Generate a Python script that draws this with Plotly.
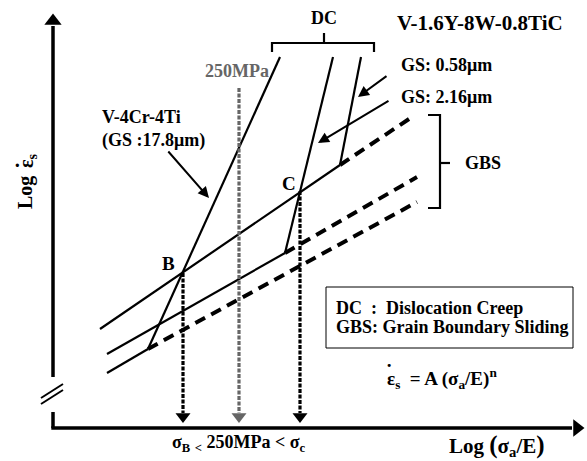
import plotly.graph_objects as go

W, H = 587, 461
FONT = "Liberation Serif"

# ---- schematic data (pixel-like schematic units) ----
# Dislocation-creep (steep) lines: top point -> point where they meet their GBS line
dc_names = ["V-4Cr-4Ti", "GS 2.16um", "GS 0.58um"]
dc_x_top = [280, 333, 361]
dc_y_top = [57, 57, 57]
dc_x_kink = [148, 285, 340]
dc_y_kink = [349, 253, 165]
# Grain-boundary-sliding lines: solid from start to kink, dashed from kink to end
gbs_x_start = [107, 107, 100]
gbs_y_start = [373, 354, 329]
gbs_x_end = [417, 417, 409]
gbs_y_end = [202, 177, 119]
# stress drop lines (B, 250MPa, C)
stress_names = ["B", "250MPa", "C"]
stress_x = [183, 239, 300]
stress_y_top = [273, 88, 191]
stress_colors = ["black", "#666666", "black"]
axis_bottom_y = 428
arrow_tip_y = 423

fig = go.Figure()

def line(xs, ys, width=2.2, color="black", dash="solid"):
    fig.add_trace(go.Scatter(x=xs, y=ys, mode="lines",
                             line=dict(color=color, width=width, dash=dash),
                             hoverinfo="skip", showlegend=False))

# axes
line([53, 53], [26, 377], width=3.5)
line([53, 53], [412, axis_bottom_y], width=3.5)
line([51.3, 572], [axis_bottom_y, axis_bottom_y], width=3.5)
# axis break marks
line([41, 63], [404, 390], width=2)
line([41, 63], [398, 384], width=2)
# axis arrowheads
fig.add_trace(go.Scatter(x=[53], y=[21], mode="markers",
                         marker=dict(symbol="triangle-up", size=15, color="black"),
                         hoverinfo="skip", showlegend=False))
fig.add_trace(go.Scatter(x=[577], y=[428], mode="markers",
                         marker=dict(symbol="triangle-right", size=15, color="black"),
                         hoverinfo="skip", showlegend=False))

# DC lines
for xt, yt, xk, yk in zip(dc_x_top, dc_y_top, dc_x_kink, dc_y_kink):
    line([xt, xk], [yt, yk], width=2.2)

# GBS lines
for i in range(3):
    line([gbs_x_start[i], dc_x_kink[i]], [gbs_y_start[i], dc_y_kink[i]], width=2.2)
    line([dc_x_kink[i], gbs_x_end[i]], [dc_y_kink[i], gbs_y_end[i]], width=4, dash="11px,7px")

# stress drop lines and arrowheads
for x, yt, c in zip(stress_x, stress_y_top, stress_colors):
    line([x, x], [yt, arrow_tip_y - 10], width=3.2, color=c, dash="4px,1.5px")
    fig.add_trace(go.Scatter(x=[x], y=[arrow_tip_y - 6.5], mode="markers",
                             marker=dict(symbol="triangle-down", size=13, color=c),
                             hoverinfo="skip", showlegend=False))

# brackets
line([272, 272, 374, 374], [52, 43, 43, 52], width=2.2)
line([324, 324], [43, 33], width=2.2)
line([428, 440, 440, 428], [115, 115, 208, 208], width=2.2)
line([440, 450], [163, 163], width=2.2)

# legend box
fig.add_shape(type="rect", x0=326, y0=287, x1=573, y1=348,
              line=dict(color="black", width=1), xref="x", yref="y")

def txt(x, y, s, size=17, color="black", xanchor="center", angle=0):
    fig.add_annotation(x=x, y=y, text="<b>" + s + "</b>", showarrow=False,
                       xanchor=xanchor, yanchor="middle", textangle=angle,
                       font=dict(family=FONT, size=size, color=color))

def arrow(x0, y0, x1, y1):
    fig.add_annotation(x=x1, y=y1, ax=x0, ay=y0, xref="x", yref="y",
                       axref="x", ayref="y", text="", showarrow=True,
                       arrowhead=2, arrowsize=1.1, arrowwidth=2, arrowcolor="black")

BIGP = "<span style='font-size:25px'>%s</span>"

txt(324, 18, "DC", size=18)
txt(480, 23, "V-1.6Y-8W-0.8TiC", size=21)
txt(237, 71, "250MPa", size=18, color="#666666")
txt(399, 65, "GS: 0.58μm", size=18, xanchor="left")
txt(399, 97, "GS: 2.16μm", size=18, xanchor="left")
txt(100, 117, "V-4Cr-4Ti", size=18, xanchor="left")
txt(100, 140, "(GS :17.8μm)", size=18, xanchor="left")
txt(483, 163, "GBS", size=18)
txt(168, 263, "B", size=19)
txt(289, 183, "C", size=19)
txt(334, 308, "DC\u00a0\u00a0:\u00a0\u00a0Dislocation Creep", size=18, xanchor="left")
txt(334, 327, "GBS: Grain Boundary Sliding", size=18, xanchor="left")
txt(385, 378, "ε<sub>s</sub>\u00a0\u00a0= A (σ<sub>a</sub>/E)<sup>n</sup>", size=19, xanchor="left")
txt(389, 365, "·", size=19)
txt(238, 443, "σ<sub>B</sub> <sub>&lt;</sub> 250MPa &lt; σ<sub>c</sub>", size=18)
txt(497, 445, "Log " + BIGP % "(" + "σ<sub>a</sub>/E" + BIGP % ")", size=21)
txt(25, 193, "Log", size=20, angle=-90)
txt(27, 161, "ε<sub>s</sub>", size=20, angle=-90)
txt(17, 165, "·", size=20)

arrow(167, 150, 209, 198)
arrow(388, 75, 358, 97)
arrow(390, 100, 318, 143)

fig.update_layout(width=W, height=H, margin=dict(l=0, r=0, t=0, b=0),
                  plot_bgcolor="white", paper_bgcolor="white",
                  xaxis=dict(range=[0, W], visible=False, fixedrange=True),
                  yaxis=dict(range=[H, 0], visible=False, fixedrange=True))

fig.write_html("out.html", config={"displayModeBar": False},
               post_script="document.body.style.margin='0';")
